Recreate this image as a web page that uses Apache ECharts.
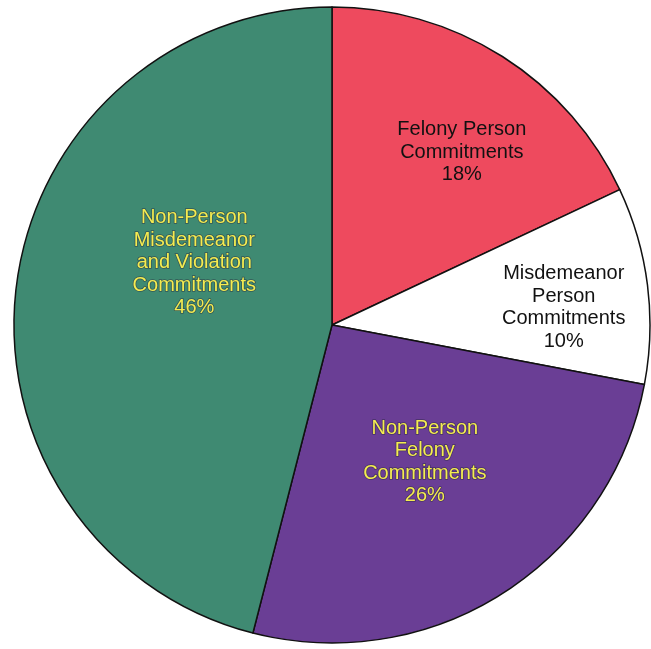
<!DOCTYPE html>
<html>
<head>
<meta charset="utf-8">
<script src="https://cdn.jsdelivr.net/npm/echarts@6/dist/echarts.min.js"></script>
<style>html,body{margin:0;padding:0;background:#fff;}#c{width:651px;height:649px;}</style>
</head>
<body>
<div id="c"></div>
<script>
const categories = [
  "Felony Person\nCommitments",
  "Misdemeanor\nPerson\nCommitments",
  "Non-Person\nFelony\nCommitments",
  "Non-Person\nMisdemeanor\nand Violation\nCommitments"
];
const values = [18, 10, 26, 46];
const colors = ["#ee4a5e", "#ffffff", "#6a3e95", "#3f8a72"];
const textColors = ["#111111", "#111111", "#f4ec50", "#f4ec50"];
const labelShift = [[43, -36], [71, 3], [6, 0], [23, -42]];

const chart = echarts.init(document.getElementById('c'));
chart.setOption({
  backgroundColor: '#ffffff',
  animation: false,
  series: [{
    type: 'pie',
    center: [332, 325],
    radius: [0, 318],
    startAngle: 90,
    clockwise: true,
    avoidLabelOverlap: false,
    itemStyle: { borderColor: '#111111', borderWidth: 1.5 },
    label: {
      show: true,
      position: 'inside',
      formatter: p => p.name + '\n' + p.value + '%',
      fontFamily: 'Liberation Sans, Arial, sans-serif',
      fontSize: 20,
      lineHeight: 22.5,
      align: 'center'
    },
    labelLayout: p => ({ dx: labelShift[p.dataIndex][0], dy: labelShift[p.dataIndex][1] }),
    data: categories.map((n, i) => ({
      name: n,
      value: values[i],
      itemStyle: { color: colors[i] },
      label: {
        color: textColors[i],
        textBorderColor: i >= 2 ? 'rgba(40,40,60,0.55)' : 'transparent',
        textBorderWidth: i >= 2 ? 1.5 : 0
      }
    }))
  }]
});
</script>
</body>
</html>
